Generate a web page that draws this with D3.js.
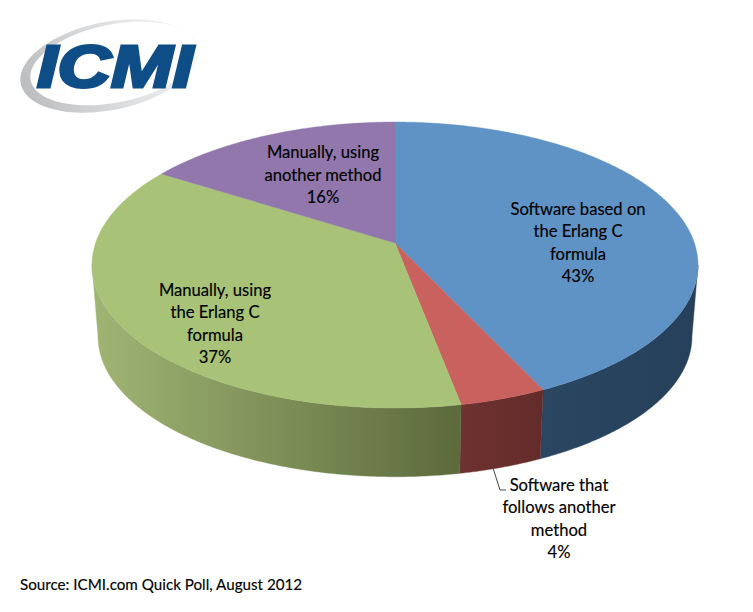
<!DOCTYPE html>
<html>
<head>
<meta charset="utf-8">
<script src="https://cdn.jsdelivr.net/npm/d3@7"></script>
<style>
html,body{margin:0;padding:0;background:#fff}
svg{display:block}
text{font-family:Lato,"Open Sans",sans-serif;fill:#000;stroke:#000;stroke-width:0.15px}
</style>
</head>
<body>
<svg id="chart" width="753" height="612"></svg>
<script>
// Poll results, clockwise from twelve o'clock
const categories = [
  ["Software based on", "the Erlang C", "formula"],
  ["Software that", "follows another", "method"],
  ["Manually, using", "the Erlang C", "formula"],
  ["Manually, using", "another method"]
];
const shares = [43, 4, 37, 16];
const topColors = ["#5f93c6", "#c9625f", "#a8c277", "#9177ab"];
const sideStops = [
  ["#2a4661", "#26405a"],
  ["#6e3230", "#632c2a"],
  ["#a0b574", "#5c6a3c"],
  ["#5a4a6c", "#5a4a6c"]
];
const sourceNote = "Source: ICMI.com Quick Poll, August 2012";
const logoWord = "ICMI";

// Tilted-disc projection
const apex = {x: 395, y: 243};
const disc = {a: 299.4, b: 139.6, k: 0.154, depth: 72, shrink: 0.98};

const project = t => {
  const u = Math.sin(t), v = Math.cos(t), w = 1 + disc.k * v;
  return {x: disc.a * u / w, y: -disc.b * v / w};
};
const topPoint = t => {
  const p = project(t);
  return [apex.x + p.x, apex.y + p.y];
};
const basePoint = t => {
  const p = project(t);
  return [apex.x + p.x * disc.shrink, apex.y + p.y * disc.shrink + disc.depth];
};

const svg = d3.select("#chart");
const defs = svg.append("defs");
const line = d3.line();
const pie = d3.pie().sort(null).value(d => d);
const arcs = pie(shares);
const samples = (a, b) => {
  const n = Math.max(2, Math.ceil(Math.abs(b - a) / 0.01));
  return d3.range(n + 1).map(i => a + (b - a) * i / n);
};

// Side wall: only the arc range between the two silhouette tangents faces the viewer
const frontStart = Math.acos(-disc.k);
const frontEnd = 2 * Math.PI - frontStart;

const sides = svg.append("g");
arcs.forEach((d, i) => {
  const a = Math.max(d.startAngle, frontStart);
  const b = Math.min(d.endAngle, frontEnd);
  if (b <= a) return;
  const ts = samples(a, b);
  const xs = ts.map(t => topPoint(t)[0]);
  const id = "side" + i;
  const grad = defs.append("linearGradient")
    .attr("id", id).attr("gradientUnits", "userSpaceOnUse")
    .attr("x1", d3.min(xs)).attr("x2", d3.max(xs)).attr("y1", 0).attr("y2", 0);
  grad.append("stop").attr("offset", 0).attr("stop-color", sideStops[i][0]);
  grad.append("stop").attr("offset", 1).attr("stop-color", sideStops[i][1]);
  const outline = ts.map(topPoint).concat(ts.slice().reverse().map(basePoint));
  sides.append("path")
    .attr("d", line(outline) + "Z")
    .attr("fill", `url(#${id})`)
    .attr("stroke", `url(#${id})`)
    .attr("stroke-width", 0.4);
});

// Top face
svg.append("g").selectAll("path").data(arcs).join("path")
  .attr("d", d => line([[apex.x, apex.y]].concat(samples(d.startAngle, d.endAngle).map(topPoint))) + "Z")
  .attr("fill", (d, i) => topColors[i])
  .attr("stroke", (d, i) => topColors[i])
  .attr("stroke-width", 0.4);

// Data labels, hand-placed
const labelCentres = [[578, 243], [559, 519], [215, 324], [323, 175]];
const lineGap = 22.2;
const labels = svg.append("g").attr("text-anchor", "middle").style("font-size", "16.6px");
categories.forEach((lines, i) => {
  const rows = lines.concat(shares[i] + "%");
  const y0 = labelCentres[i][1] - (rows.length - 1) * lineGap / 2;
  labels.append("g").selectAll("text").data(rows).join("text")
    .attr("x", labelCentres[i][0])
    .attr("y", (r, j) => y0 + j * lineGap + 5.5)
    .text(r => r);
});

// Leader for the small slice
svg.append("path")
  .attr("d", line([[493, 468], [500, 490], [506, 490]]))
  .attr("fill", "none").attr("stroke", "#444").attr("stroke-width", 1);

// Source note
svg.append("text").attr("x", 20).attr("y", 590)
  .style("font-size", "15.2px").text(sourceNote);

// Logo: grey swoosh behind the word mark
const logo = svg.append("g");
const swooshGrad = defs.append("linearGradient").attr("id", "swoosh")
  .attr("x1", 0).attr("x2", 1).attr("y1", 0.6).attr("y2", 0.4);
swooshGrad.append("stop").attr("offset", 0).attr("stop-color", "#bcbec0");
swooshGrad.append("stop").attr("offset", 0.5).attr("stop-color", "#dcdddf");
swooshGrad.append("stop").attr("offset", 1).attr("stop-color", "#f6f6f7");
const ringPath = (cx, cy, rx, ry, rot) => {
  const pts = d3.range(0, 2 * Math.PI, 0.05).map(t => {
    const ex = rx * Math.cos(t), ey = ry * Math.sin(t);
    const c = Math.cos(rot), s = Math.sin(rot);
    return [cx + ex * c - ey * s, cy + ex * s + ey * c];
  });
  return line(pts) + "Z";
};
logo.append("path")
  .attr("d", ringPath(109, 66, 90, 44, -0.2) + ringPath(114, 63.5, 85, 39, -0.2))
  .attr("fill", "url(#swoosh)").attr("fill-rule", "evenodd").style("stroke", "none");
logo.append("text")
  .attr("x", 37).attr("y", 86.5)
  .attr("textLength", 156).attr("lengthAdjust", "spacingAndGlyphs")
  .style("font-family", "'Liberation Sans',sans-serif")
  .style("font-weight", 700).style("font-style", "italic").style("font-size", "60px")
  .style("fill", "#0f4d87").style("stroke", "#0f4d87").style("stroke-width", "3px")
  .text(logoWord);
</script>
</body>
</html>
